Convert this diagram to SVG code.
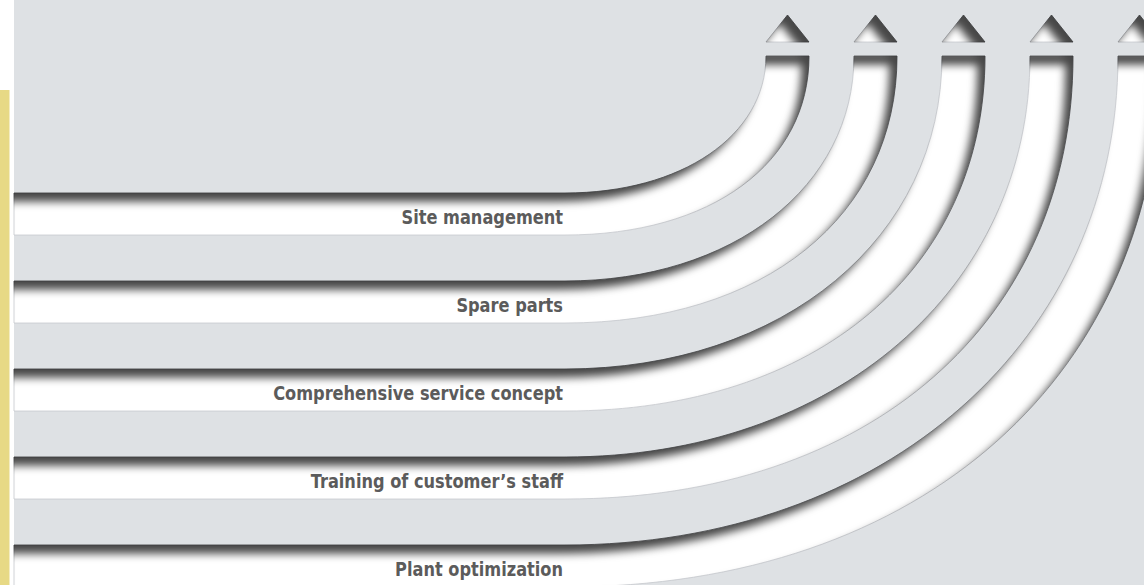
<svg xmlns="http://www.w3.org/2000/svg" width="1144" height="585" viewBox="0 0 1144 585">
  <defs>
    <filter id="inset" filterUnits="userSpaceOnUse" x="-100" y="-100" width="1400" height="800" color-interpolation-filters="sRGB">
      <feComponentTransfer in="SourceAlpha" result="inv">
        <feFuncA type="table" tableValues="1 0"/>
      </feComponentTransfer>
      <feOffset in="inv" dx="-8" dy="9" result="off"/>
      <feGaussianBlur in="off" stdDeviation="4" result="blur"/>
      <feFlood flood-color="#000" flood-opacity="0.72" result="col"/>
      <feComposite in="col" in2="blur" operator="in" result="sh"/>
      <feComposite in="sh" in2="SourceAlpha" operator="in" result="shin"/>
      <feMerge>
        <feMergeNode in="SourceGraphic"/>
        <feMergeNode in="shin"/>
      </feMerge>
    </filter>
  </defs>
  <style>
    .groove { fill: #ffffff; stroke: #c9ccd0; stroke-width: 0.8; }
    .label { font-family: 'DejaVu Sans Condensed', 'DejaVu Sans', sans-serif; font-stretch: condensed; font-weight: bold; font-size: 20px; fill: #5b5b5b; text-anchor: end; }
  </style>

  <g id="background">
    <rect x="0" y="0" width="1144" height="585" fill="#ffffff"/>
    <rect x="14" y="0" width="1130" height="585" fill="#dee1e4"/>
    <rect x="0" y="90" width="9.5" height="495" fill="#e7d985"/>
  </g>

  <g id="connectors">
    <g id="arrow-1" filter="url(#inset)">
      <path class="groove" d="M14,193 H565 C681.6,193 766,135.5 766,56 H809 C809,163.4 711.4,235 565,235 H14 Z"/>
      <polygon class="groove" points="766,42 787.5,15 809,42"/>
    </g>
    <g id="arrow-2" filter="url(#inset)">
      <path class="groove" d="M14,281 H565 C732.6,281 854,186.5 854,56 H897 C897,216.2 764.2,323 565,323 H14 Z"/>
      <polygon class="groove" points="854,42 875.5,15 897,42"/>
    </g>
    <g id="arrow-3" filter="url(#inset)">
      <path class="groove" d="M14,369 H565 C783.7,369 942,237.5 942,56 H985 C985,269 817,411 565,411 H14 Z"/>
      <polygon class="groove" points="942,42 963.5,15 985,42"/>
    </g>
    <g id="arrow-4" filter="url(#inset)">
      <path class="groove" d="M14,457 H565 C834.7,457 1030,288.6 1030,56 H1073 C1073,321.8 869.8,499 565,499 H14 Z"/>
      <polygon class="groove" points="1030,42 1051.5,15 1073,42"/>
    </g>
    <g id="arrow-5" filter="url(#inset)">
      <path class="groove" d="M14,545 H565 C885.7,545 1118,339.6 1118,56 H1161 C1161,374.6 922.6,587 565,587 H14 Z"/>
      <polygon class="groove" points="1118,42 1139.5,15 1161,42"/>
    </g>
  </g>

  <g id="node-site-management">
    <text class="label" transform="translate(563,224) scale(0.9,1)">Site management</text>
  </g>
  <g id="node-spare-parts">
    <text class="label" transform="translate(563,312) scale(0.9,1)">Spare parts</text>
  </g>
  <g id="node-comprehensive-service-concept">
    <text class="label" transform="translate(563,400) scale(0.9,1)">Comprehensive service concept</text>
  </g>
  <g id="node-training">
    <text class="label" transform="translate(563,488) scale(0.9,1)">Training of customer’s staff</text>
  </g>
  <g id="node-plant-optimization">
    <text class="label" transform="translate(563,576) scale(0.9,1)">Plant optimization</text>
  </g>
</svg>
